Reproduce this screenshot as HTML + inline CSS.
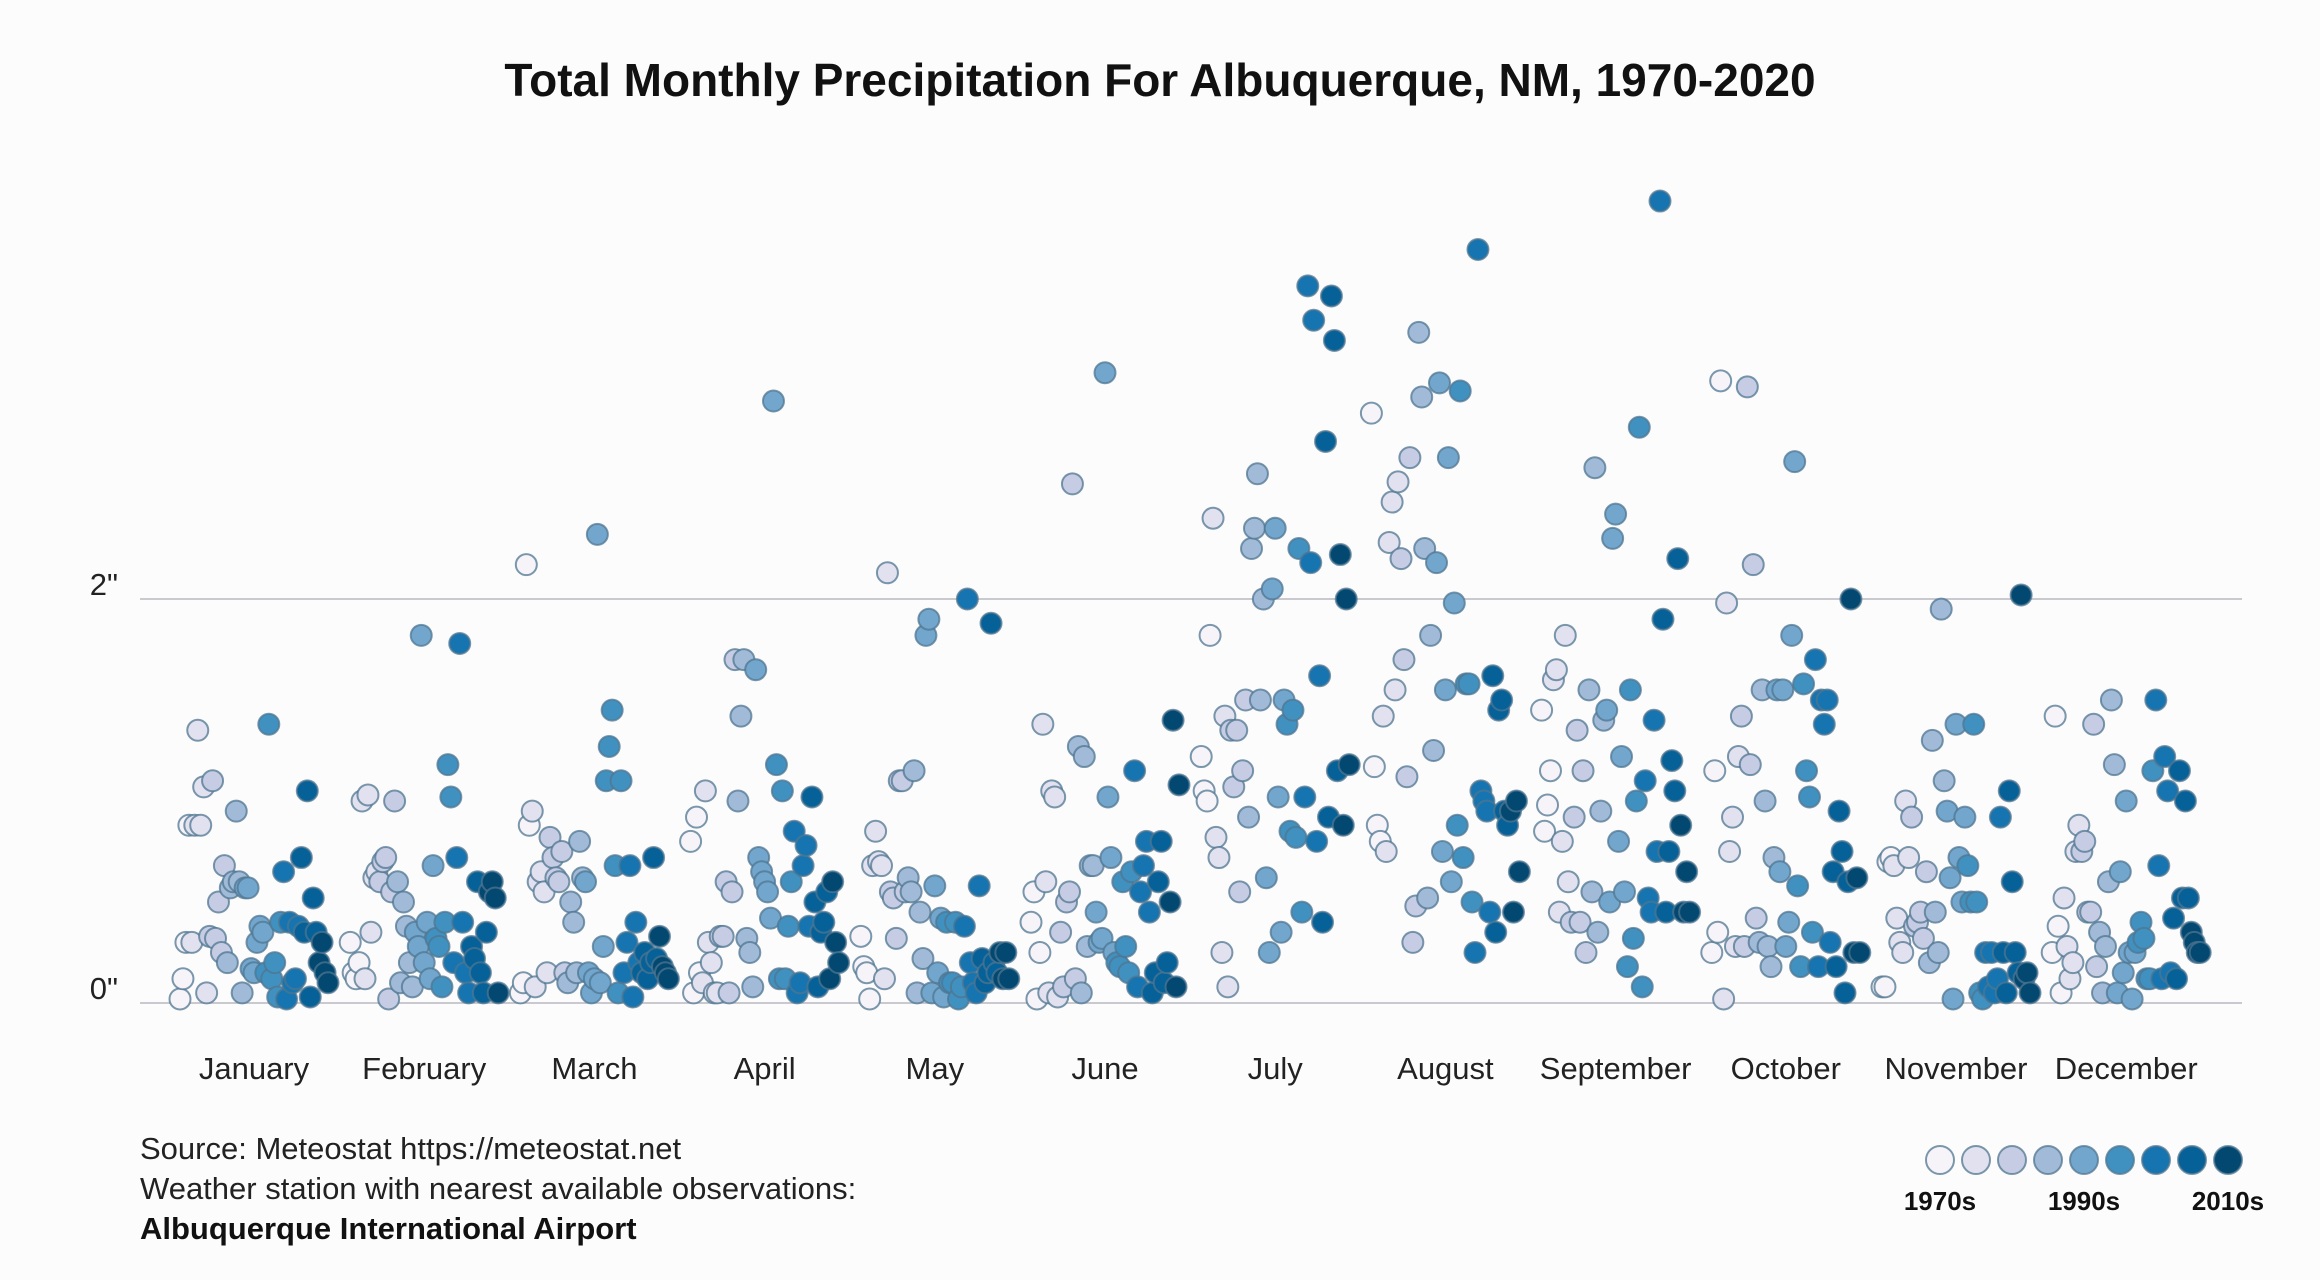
<!DOCTYPE html>
<html><head><meta charset="utf-8"><style>
html,body{margin:0;padding:0;background:#fdfcfd;}
svg{display:block;font-family:"Liberation Sans",sans-serif;}
</style></head><body>
<svg id="chart" width="2320" height="1280" viewBox="0 0 2320 1280">
<rect width="2320" height="1280" fill="#fdfcfd"/>
<text x="1160" y="96" text-anchor="middle" font-size="46" font-weight="bold" fill="#111">Total Monthly Precipitation For Albuquerque, NM, 1970-2020</text>
<g id="grid"></g><g id="dots"></g><g id="xlab"></g>
<text x="140" y="1159" font-size="31" fill="#222">Source: Meteostat https://meteostat.net</text>
<text x="140" y="1199" font-size="31" fill="#222">Weather station with nearest available observations:</text>
<text x="140" y="1239" font-size="31" font-weight="bold" fill="#111">Albuquerque International Airport</text>
<g id="legend"></g>
</svg>
<script>
const months=["January","February","March","April","May","June","July","August","September","October","November","December"];
const yTicks=[0,2];
const yTickLabels=['0"','2"'];
const decadeLabels=["1970s","1990s","2010s"];
const jan=[0.02,0.12,0.3,0.88,0.3,0.88,1.35,0.88,1.07,0.05,0.33,1.1,0.32,0.5,0.25,0.68,0.2,0.57,0.6,0.95,0.6,0.05,0.57,0.57,0.17,0.15,0.3,0.38,0.35,0.15,1.38,0.12,0.2,0.03,0.4,0.65,0.02,0.4,0.1,0.12,0.38,0.72,0.35,1.05,0.03,0.52,0.35,0.2,0.3,0.15,0.1];
const feb=[0.3,0.15,0.12,0.2,1.0,0.12,1.03,0.35,0.62,0.65,0.6,0.7,0.72,0.02,0.55,1.0,0.6,0.1,0.5,0.38,0.2,0.08,0.35,0.28,1.82,0.2,0.4,0.12,0.68,0.32,0.28,0.08,0.4,1.18,1.02,0.2,0.72,1.78,0.4,0.15,0.05,0.28,0.22,0.6,0.15,0.05,0.35,0.55,0.6,0.52,0.05];
const mar=[0.05,0.1,2.17,0.88,0.95,0.08,0.6,0.65,0.55,0.15,0.82,0.72,0.62,0.6,0.75,0.15,0.1,0.5,0.4,0.15,0.8,0.62,0.6,0.15,0.05,0.12,2.32,0.1,0.28,1.1,1.27,1.45,0.68,0.05,1.1,0.15,0.3,0.68,0.03,0.4,0.2,0.15,0.25,0.12,0.2,0.72,0.22,0.33,0.18,0.15,0.12];
const apr=[0.8,0.05,0.92,0.15,0.1,1.05,0.3,0.2,0.05,0.05,0.33,0.33,0.6,0.05,0.55,1.7,1.0,1.42,1.7,0.32,0.25,0.08,1.65,0.72,0.65,0.6,0.55,0.42,2.98,1.18,0.12,1.05,0.12,0.38,0.6,0.85,0.05,0.1,0.68,0.78,0.38,1.02,0.5,0.08,0.35,0.4,0.55,0.12,0.6,0.3,0.2];
const may=[0.33,0.18,0.15,0.02,0.68,0.85,0.7,0.68,0.12,2.13,0.55,0.52,0.32,1.1,1.1,0.55,0.62,0.55,1.15,0.05,0.45,0.22,1.82,1.9,0.05,0.58,0.15,0.42,0.03,0.4,0.1,0.1,0.4,0.02,0.08,0.38,2.0,0.2,0.1,0.05,0.58,0.22,0.1,0.15,1.88,0.2,0.15,0.25,0.12,0.25,0.12];
const jun=[0.4,0.55,0.02,0.25,1.38,0.6,0.05,1.05,1.02,0.03,0.35,0.08,0.5,0.55,2.57,0.12,1.27,0.05,1.22,0.28,0.68,0.68,0.45,0.3,0.32,3.12,1.02,0.72,0.25,0.2,0.18,0.6,0.28,0.15,0.65,1.15,0.08,0.55,0.68,0.8,0.45,0.05,0.15,0.6,0.8,0.1,0.2,0.5,1.4,0.08,1.08];
const jul=[1.22,1.05,1.0,1.82,2.4,0.82,0.72,0.25,1.42,0.08,1.35,1.07,1.35,0.55,1.15,1.5,0.92,2.25,2.35,2.62,1.5,2.0,0.62,0.25,2.05,2.35,1.02,0.35,1.5,1.38,0.85,1.45,0.82,2.25,0.45,1.02,3.55,2.18,3.38,0.8,1.62,0.4,2.78,0.92,3.5,3.28,1.15,2.22,0.88,2.0,1.18];
const aug=[2.92,1.17,0.88,0.8,1.42,0.75,2.28,2.48,1.55,2.58,2.2,1.7,1.12,2.7,0.3,0.48,3.32,3.0,2.25,0.52,1.82,1.25,2.18,3.07,0.75,1.55,2.7,0.6,1.98,0.88,3.03,0.72,1.58,1.58,0.5,0.25,3.73,1.05,1.0,0.95,0.45,1.62,0.35,1.45,1.5,0.95,0.88,0.95,0.45,1.0,0.65];
const sep=[1.45,0.85,0.98,1.15,1.6,1.65,0.45,0.8,1.82,0.6,0.4,0.92,1.35,0.4,1.15,0.25,1.55,0.55,2.65,0.35,0.95,1.4,1.45,0.5,2.3,2.42,0.8,1.22,0.55,0.18,1.55,0.32,1.0,2.85,0.08,1.1,0.52,0.45,1.4,0.75,3.97,1.9,0.45,0.75,1.2,1.05,2.2,0.88,0.45,0.65,0.45];
const oct=[0.25,1.15,0.35,3.08,0.02,1.98,0.75,0.92,0.28,1.22,1.42,0.28,3.05,1.18,2.17,0.42,0.3,1.55,1.0,0.28,0.18,0.72,1.55,0.65,1.55,0.28,0.4,1.82,2.68,0.58,0.18,1.58,1.15,1.02,0.35,1.7,0.18,1.5,1.38,1.5,0.3,0.65,0.18,0.95,0.75,0.05,0.6,2.0,0.25,0.62,0.25];
const nov=[0.08,0.08,0.7,0.72,0.68,0.42,0.3,0.25,1.0,0.72,0.92,0.38,0.4,0.45,0.32,0.65,0.2,1.3,0.45,0.25,1.95,1.1,0.95,0.62,0.02,1.38,0.72,0.5,0.92,0.68,0.5,1.38,0.5,0.05,0.02,0.25,0.08,0.25,0.05,0.12,0.92,0.25,0.05,1.05,0.6,0.25,0.15,2.02,0.12,0.15,0.05];
const dec=[0.25,1.42,0.38,0.05,0.52,0.28,0.12,0.2,0.75,0.88,0.75,0.8,0.45,0.45,1.38,0.18,0.35,0.05,0.28,0.6,1.5,1.18,0.05,0.65,0.15,1.0,0.25,0.02,0.25,0.3,0.4,0.32,0.12,0.12,1.15,1.5,0.68,0.12,1.22,1.05,0.15,0.42,0.12,1.15,0.52,1.0,0.52,0.35,0.3,0.25,0.25];
const series=[jan,feb,mar,apr,may,jun,jul,aug,sep,oct,nov,dec];
const palette=["#f7f4f9","#e2e1ef","#c5cce3","#a0bad8","#72a6cd","#4191c0","#1675b0","#056198","#034870"];
const NS="http://www.w3.org/2000/svg";
function mk(t,a,p){const e=document.createElementNS(NS,t);for(const k in a)e.setAttribute(k,a[k]);p.appendChild(e);return e;}
const y0=1003,yPer=(1003-599)/2;
function yScale(v){return y0-v*yPer;}
function monthX(i){return 254+i*170.2;}
function xScale(m,yr){return monthX(m)-74+yr*(148/50);}
function colorFor(yr){return palette[Math.min(8,Math.round(yr/50*8))];}
const grid=document.getElementById('grid');
yTicks.forEach((t,i)=>{
 const l=mk('line',{x1:140,x2:2242,y1:yScale(t),y2:yScale(t),stroke:'#b8b8c0','stroke-width':1.5},grid);
 
 
 const tx=mk('text',{x:118,y:yScale(t)-4,'text-anchor':'end','font-size':31,fill:'#222'},grid);
 tx.textContent=yTickLabels[i];
 
 
});
const xl=document.getElementById('xlab');
months.forEach((m,i)=>{
 const t=mk('text',{x:monthX(i),y:1079,'text-anchor':'middle','font-size':31,fill:'#222'},xl);
 t.textContent=m;
 
 
});
const dots=document.getElementById('dots');
series.forEach((arr,m)=>{
 arr.forEach((v,yr)=>{
  const c=mk('circle',{cx:xScale(m,yr),cy:yScale(v),r:10.5,fill:colorFor(yr),stroke:'#4f7590','stroke-opacity':0.75,'stroke-width':2},dots);
  
  
 });
});
const lg=document.getElementById('legend');
palette.forEach((p,i)=>{
 const c=mk('circle',{cx:1940+i*36,cy:1160,r:14,fill:p,stroke:'#4f7590','stroke-opacity':0.75,'stroke-width':2},lg);
 
 
});
decadeLabels.forEach((d,i)=>{
 const t=mk('text',{x:1940+i*144,y:1210,'text-anchor':'middle','font-size':26,'font-weight':'bold',fill:'#111'},lg);
 t.textContent=d;
 
 
});
</script>
</body></html>
